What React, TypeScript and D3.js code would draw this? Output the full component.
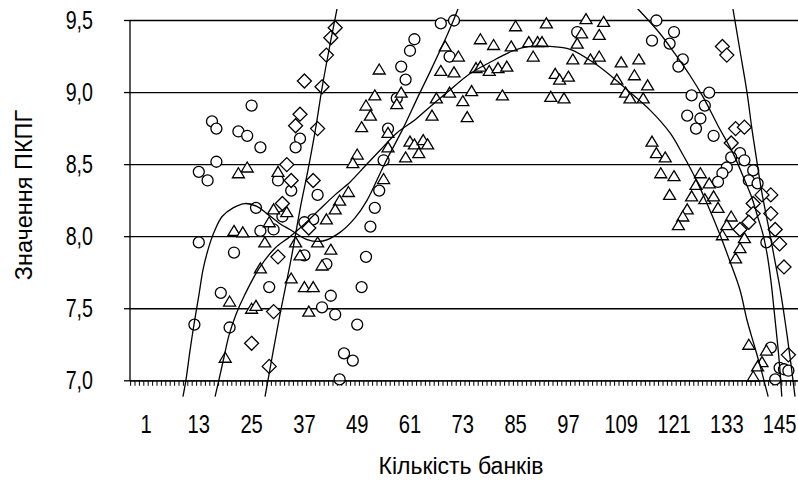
import React from 'react';
import * as d3 from 'd3';

type P = [number, number];

const xTickLabels = [1, 13, 25, 37, 49, 61, 73, 85, 97, 109, 121, 133, 145];
const yTickValues = [7.0, 7.5, 8.0, 8.5, 9.0, 9.5];
const xTitle = 'Кількість банків';
const yTitle = 'Значення ПКПГ';

const circlePoints: P[] = [
  [13, 8.45], [15, 8.39], [16, 8.80], [17, 8.75], [22, 8.73], [24, 8.70], [25, 8.91], [27, 8.62],
  [17, 8.52], [36, 8.68], [35, 8.62], [31, 8.39], [34, 8.32], [40, 8.29], [26, 8.20], [32, 8.14],
  [39, 8.12], [27, 8.04], [30, 8.05], [37, 8.10], [13, 7.96], [21, 7.89], [37, 7.87], [42, 7.81],
  [29, 7.65], [18, 7.61], [43, 7.59], [41, 7.51], [44, 7.46], [12, 7.39], [20, 7.37], [46, 7.19],
  [48, 7.14], [45, 7.01], [49, 7.39], [51, 7.86], [50, 7.65], [52, 8.07], [53, 8.20], [54, 8.32],
  [55, 8.53], [56, 8.75], [58, 8.96], [60, 9.09], [59, 9.18], [61, 9.29], [62, 9.37], [70, 9.25],
  [68, 9.48], [71, 9.50],
  [99, 9.42], [117, 9.50], [121, 9.42], [116, 9.36], [120, 9.34], [123, 9.23], [122, 9.18],
  [125, 8.98], [129, 9.00], [128, 8.91], [124, 8.84], [127, 8.82], [126, 8.75], [130, 8.70],
  [136, 8.58], [134, 8.55], [137, 8.53], [133, 8.48], [132, 8.44], [139, 8.46], [131, 8.38],
  [138, 8.39], [140, 8.37], [142, 7.96], [143, 7.23], [145, 7.09], [146, 7.08], [147, 7.07], [144, 7.01],
];

const trianglePoints: P[] = [
  [24, 8.48], [22, 8.44], [31, 8.45], [21, 8.04], [23, 8.03], [28, 7.96], [30, 8.19], [33, 8.17],
  [29, 8.10], [42, 8.12], [35, 7.96], [40, 7.96], [43, 7.91], [36, 7.87], [41, 7.80], [27, 7.78],
  [34, 7.71], [37, 7.65], [39, 7.65], [20, 7.55], [25, 7.50], [26, 7.52], [38, 7.48], [19, 7.16],
  [47, 8.31], [45, 8.25], [44, 8.19], [54, 9.16], [85, 9.46], [92, 9.48], [77, 9.37], [80, 9.33],
  [84, 9.32], [88, 9.35], [90, 9.35], [91, 9.35], [89, 9.25], [69, 9.32], [72, 9.25], [68, 9.15],
  [71, 9.14], [76, 9.17], [77, 9.18], [79, 9.15], [81, 9.17], [83, 9.18], [59, 9.00], [53, 8.98],
  [51, 8.91], [52, 8.84], [50, 8.76], [58, 8.92], [67, 8.96], [70, 9.00], [75, 9.01], [73, 8.94],
  [82, 8.98], [66, 8.84], [74, 8.83], [56, 8.72], [56, 8.62], [61, 8.66], [62, 8.64], [64, 8.67],
  [65, 8.64], [63, 8.58], [60, 8.55], [49, 8.57], [48, 8.51], [55, 8.40], [94, 9.13], [95, 9.09],
  [97, 9.11], [98, 9.23], [99, 9.34], [93, 8.97], [96, 8.96], [100, 9.41], [101, 9.51], [105, 9.49],
  [104, 9.40], [102, 9.23], [104, 9.25], [109, 9.21], [113, 9.23], [108, 9.09], [112, 9.12],
  [115, 9.05], [110, 9.00], [111, 8.96], [114, 8.96], [116, 8.66], [117, 8.58], [119, 8.55],
  [118, 8.44], [121, 8.42], [127, 8.44], [126, 8.36], [129, 8.37], [120, 8.29], [125, 8.28],
  [128, 8.26], [130, 8.28], [131, 8.20], [124, 8.19], [123, 8.14], [122, 8.08], [134, 8.14],
  [133, 8.08], [137, 7.99], [132, 8.01], [136, 7.92], [135, 7.85], [138, 7.25], [142, 7.21],
  [141, 7.13], [140, 7.10], [139, 7.03],
];

const diamondPoints: P[] = [
  [44, 9.45], [43, 9.38], [42, 9.26], [37, 9.08], [41, 9.04], [36, 8.85], [35, 8.77], [40, 8.75],
  [33, 8.50], [34, 8.39], [39, 8.39], [32, 8.23], [38, 8.06], [31, 7.86], [30, 7.48], [25, 7.26],
  [29, 7.10],
  [132, 9.32], [133, 9.26], [135, 8.75], [137, 8.76], [134, 8.65], [143, 8.29], [141, 8.29],
  [139, 8.23], [139, 8.16], [143, 8.16], [138, 8.10], [136, 8.05], [144, 8.05], [145, 7.95],
  [146, 7.79], [147, 7.18],
];

// trend lines
const circleTrendLeft: P[] = [
  [9.4, 6.89], [10.1, 7.01], [11.0, 7.21], [11.9, 7.39], [13.05, 7.60], [13.95, 7.77], [15.1, 7.91],
  [16.45, 8.03], [18.3, 8.14], [20.8, 8.20], [23.5, 8.23], [26.2, 8.21], [28.5, 8.16], [31.45, 8.09],
  [33.7, 8.05], [37.6, 7.98], [41.2, 7.97], [45.1, 8.03], [48.5, 8.13], [51.2, 8.25], [55.3, 8.51],
  [59.4, 8.75], [62.8, 8.97], [65.5, 9.14], [67.8, 9.29], [69.6, 9.41], [71.9, 9.58], [73.5, 9.72],
];
const circleTrendRight: P[] = [
  [108.7, 9.71], [112.8, 9.58], [117.8, 9.41], [121.2, 9.27], [124.6, 9.12], [127.6, 8.97],
  [131.0, 8.77], [134.4, 8.58], [137.1, 8.39], [138.7, 8.27], [140.1, 8.13], [141.2, 8.02],
  [142.1, 7.89], [143.0, 7.70], [143.95, 7.43], [144.9, 7.14], [145.5, 6.89],
];
const triangleTrend: P[] = [
  [16.7, 6.89], [17.6, 7.01], [18.7, 7.16], [19.9, 7.32], [21.45, 7.46], [23.5, 7.60], [26.7, 7.78],
  [30.3, 7.92], [33.7, 8.00], [37.1, 8.09], [40.5, 8.19], [43.95, 8.29], [47.4, 8.38], [50.8, 8.49],
  [54.2, 8.60], [58.0, 8.72], [62.1, 8.81], [65.5, 8.90], [69.4, 9.00], [74.6, 9.13], [79.2, 9.21],
  [84.4, 9.29], [88.3, 9.32], [92.8, 9.32], [97.4, 9.30], [102.6, 9.21], [106.5, 9.12], [110.3, 9.02],
  [115.5, 8.88], [120.1, 8.72], [123.0, 8.57], [125.8, 8.41], [128.5, 8.23], [131.5, 8.01],
  [133.7, 7.83], [136.0, 7.63], [137.6, 7.42], [139.2, 7.25], [140.6, 7.10], [142.4, 6.89],
];
const diamondTrendLeft: P[] = [
  [28.05, 6.89], [31.2, 7.42], [33.95, 7.84], [36.2, 8.22], [37.8, 8.46], [39.6, 8.76], [41.0, 9.03],
  [42.8, 9.33], [44.4, 9.58], [45.1, 9.71],
];
const diamondTrendRight: P[] = [
  [133.7, 9.71], [134.4, 9.58], [136.0, 9.29], [137.6, 9.0], [138.7, 8.75], [139.9, 8.51],
  [141.0, 8.30], [142.4, 8.08], [143.7, 7.87], [145.1, 7.64], [146.45, 7.37], [147.6, 7.11], [148.5, 6.89],
];

const FONT = "'Liberation Sans', Arial, sans-serif";

export default function App() {
  const W = 798;
  const H = 492;
  const plotLeft = 130;
  const plotRight = 798;
  const clipTop = 9;
  const clipBottom = 397;

  const x = d3.scaleLinear().domain([1, 145]).range([146, 146 + 144 * 4.4]);
  const y = d3.scaleLinear().domain([7, 9.5]).range([380.8, 20.5]);
  const catW = x(2) - x(1);

  const line = d3
    .line<P>()
    .x((d) => x(d[0]))
    .y((d) => y(d[1]))
    .curve(d3.curveCatmullRom.alpha(0.5));

  const minorTicks = d3
    .range(-5, 160)
    .map((v) => x(v) - catW / 2)
    .filter((px) => px >= plotLeft && px <= plotRight);

  const tri = 'M0,-5.5L6,4.5L-6,4.5Z';
  const dia = 'M0,-7L7,0L0,7L-7,0Z';
  const stroke = '#000';
  const sw = 1.3;

  const trends = [circleTrendLeft, circleTrendRight, triangleTrend, diamondTrendLeft, diamondTrendRight];

  return (
    <svg
      width={W}
      height={H}
      viewBox={`0 0 ${W} ${H}`}
      style={{ position: 'absolute', left: 0, top: 0, background: '#fff' }}
    >
      <defs>
        <clipPath id="plotClip">
          <rect x={plotLeft} y={clipTop} width={plotRight - plotLeft} height={clipBottom - clipTop} />
        </clipPath>
      </defs>
      <rect x={0} y={0} width={W} height={H} fill="#fff" />

      {/* gridlines */}
      {yTickValues.map((v) => (
        <line key={'g' + v} x1={plotLeft} x2={plotRight} y1={y(v)} y2={y(v)} stroke={stroke} strokeWidth={sw} />
      ))}
      {/* y axis */}
      <line x1={plotLeft} x2={plotLeft} y1={y(9.5)} y2={y(7)} stroke={stroke} strokeWidth={sw} />
      {yTickValues.map((v) => (
        <line key={'yt' + v} x1={plotLeft - 6} x2={plotLeft} y1={y(v)} y2={y(v)} stroke={stroke} strokeWidth={sw} />
      ))}
      {yTickValues.map((v) => (
        <g key={'yl' + v} transform={`translate(93,${y(v) + 2}) scale(0.82,1.05)`}>
          <text x={0} y={0} textAnchor="end" dominantBaseline="middle" fontFamily={FONT} fontSize={24} fill="#000">
            {v.toFixed(1).replace('.', ',')}
          </text>
        </g>
      ))}
      {/* x axis ticks */}
      {minorTicks.map((px, i) => (
        <line key={'xt' + i} x1={px} x2={px} y1={y(7)} y2={y(7) + 5} stroke={stroke} strokeWidth={1} />
      ))}
      {xTickLabels.map((v) => (
        <g key={'xl' + v} transform={`translate(${x(v)},433) scale(0.84,1.05)`}>
          <text x={0} y={0} textAnchor="middle" fontFamily={FONT} fontSize={24} fill="#000">
            {v}
          </text>
        </g>
      ))}
      <text x={461} y={474} textAnchor="middle" fontFamily={FONT} fontSize={23} fill="#000">
        {xTitle}
      </text>
      <text
        transform={`translate(32,195) rotate(-90)`}
        textAnchor="middle"
        fontFamily={FONT}
        fontSize={23.5}
        fill="#000"
      >
        {yTitle}
      </text>

      <g clipPath="url(#plotClip)">
        {/* markers */}
        {circlePoints.map((d, i) => (
          <circle key={'c' + i} cx={x(d[0])} cy={y(d[1])} r={5.5} fill="#fff" stroke={stroke} strokeWidth={sw} />
        ))}
        {trianglePoints.map((d, i) => (
          <path
            key={'t' + i}
            d={tri}
            transform={`translate(${x(d[0])},${y(d[1])})`}
            fill="#fff"
            stroke={stroke}
            strokeWidth={sw}
          />
        ))}
        {diamondPoints.map((d, i) => (
          <path
            key={'d' + i}
            d={dia}
            transform={`translate(${x(d[0])},${y(d[1])})`}
            fill="#fff"
            stroke={stroke}
            strokeWidth={sw}
          />
        ))}
        {/* x axis line above markers */}
        <line x1={plotLeft} x2={plotRight} y1={y(7)} y2={y(7)} stroke={stroke} strokeWidth={sw} />
        {/* trend lines */}
        {trends.map((t, i) => (
          <path key={'tr' + i} d={line(t) || ''} fill="none" stroke={stroke} strokeWidth={sw} />
        ))}
      </g>
    </svg>
  );
}
